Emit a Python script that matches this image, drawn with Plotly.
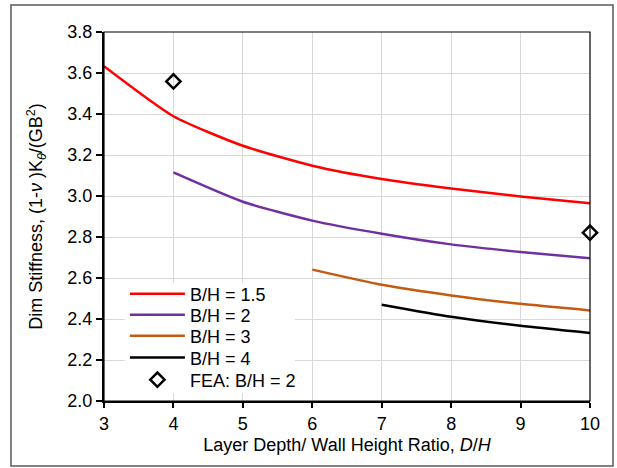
import plotly.graph_objects as go

# Dimensionless rotational stiffness vs layer depth ratio
x_bh15 = [3, 4, 5, 6, 7, 8, 9, 10]
y_bh15 = [3.633, 3.389, 3.245, 3.148, 3.083, 3.037, 2.998, 2.964]

x_bh2 = [4, 5, 6, 7, 8, 9, 10]
y_bh2 = [3.115, 2.972, 2.880, 2.816, 2.764, 2.727, 2.696]

x_bh3 = [6, 7, 8, 9, 10]
y_bh3 = [2.641, 2.567, 2.515, 2.474, 2.442]

x_bh4 = [7, 8, 9, 10]
y_bh4 = [2.470, 2.411, 2.367, 2.332]

x_fea = [4, 10]
y_fea = [3.559, 2.821]

x_ticks = [3, 4, 5, 6, 7, 8, 9, 10]
y_ticks = [2.0, 2.2, 2.4, 2.6, 2.8, 3.0, 3.2, 3.4, 3.6, 3.8]

FONT = "Liberation Sans, Arial, sans-serif"
FS = 18

# one legend per entry so the rows can be spaced tightly
legend_ids = ["legend", "legend2", "legend3", "legend4", "legend5"]
legend_rows = [0.290, 0.233, 0.176, 0.117, 0.057]

fig = go.Figure()
series = [
    ("B/H = 1.5", x_bh15, y_bh15, "#FF0000"),
    ("B/H = 2", x_bh2, y_bh2, "#7030A0"),
    ("B/H = 3", x_bh3, y_bh3, "#C55A11"),
    ("B/H = 4", x_bh4, y_bh4, "#000000"),
]
for i, (name, xs, ys, col) in enumerate(series):
    fig.add_trace(go.Scatter(
        x=xs, y=ys, name=name, mode="lines", legend=legend_ids[i],
        line=dict(color=col, width=2.5, shape="spline", smoothing=0.6),
    ))
fig.add_trace(go.Scatter(
    x=x_fea, y=y_fea, name="FEA: B/H = 2", mode="markers", legend=legend_ids[4],
    marker=dict(symbol="diamond-open", size=11, color="#000000",
                line=dict(color="#000000", width=2.5)),
    cliponaxis=False,
))

# outer frame around the whole chart, legend backdrop and top/right plot border
fig.add_shape(type="rect", xref="paper", yref="paper",
              x0=-0.1914, x1=1.0473, y0=-0.1762, y1=1.0732,
              line=dict(color="#595959", width=1.5), layer="below")
fig.add_shape(type="rect", xref="paper", yref="paper",
              x0=0.043, x1=0.393, y0=0.022, y1=0.32,
              fillcolor="white", line=dict(width=0), layer="above")
fig.add_shape(type="rect", xref="paper", yref="paper",
              x0=0, x1=1, y0=0, y1=1,
              line=dict(color="#000000", width=1.2), layer="above")

legend_style = dict(
    xanchor="left", yanchor="middle", bgcolor="rgba(0,0,0,0)", borderwidth=0,
    font=dict(family=FONT, size=FS), itemwidth=55,
)
layout_legends = {
    lid: dict(x=0.043, y=ly, **legend_style)
    for lid, ly in zip(legend_ids, legend_rows)
}

fig.update_layout(
    width=617, height=468,
    margin=dict(l=104, r=27, t=32, b=67),
    paper_bgcolor="white", plot_bgcolor="white",
    font=dict(family=FONT, size=FS, color="#000000"),
    showlegend=True,
    **layout_legends,
    xaxis=dict(
        range=[3, 10], tickvals=x_ticks, ticktext=[str(v) for v in x_ticks],
        tickfont=dict(family=FONT, size=FS),
        showgrid=True, gridcolor="#D9D9D9", gridwidth=1,
        showline=True, linecolor="#000000", linewidth=2,
        ticks="outside", ticklen=5, tickcolor="#000000", tickwidth=1.5,
        zeroline=False,
        title=dict(text="Layer Depth/ Wall Height Ratio, <i>D</i>/<i>H</i>",
                   font=dict(family=FONT, size=FS), standoff=6),
    ),
    yaxis=dict(
        range=[2.0, 3.8], tickvals=y_ticks,
        ticktext=[f"{v:.1f}" for v in y_ticks],
        tickfont=dict(family=FONT, size=FS),
        showgrid=True, gridcolor="#D9D9D9", gridwidth=1,
        showline=True, linecolor="#000000", linewidth=2,
        ticks="outside", ticklen=6, tickcolor="#000000", tickwidth=1.5,
        zeroline=False,
        title=dict(text="Dim Stiffness, (1-<i>ν</i> )K<sub><i>θ</i></sub>/(GB<sup>2</sup>)",
                   font=dict(family=FONT, size=FS), standoff=20),
    ),
)

fig.write_html("out.html")
